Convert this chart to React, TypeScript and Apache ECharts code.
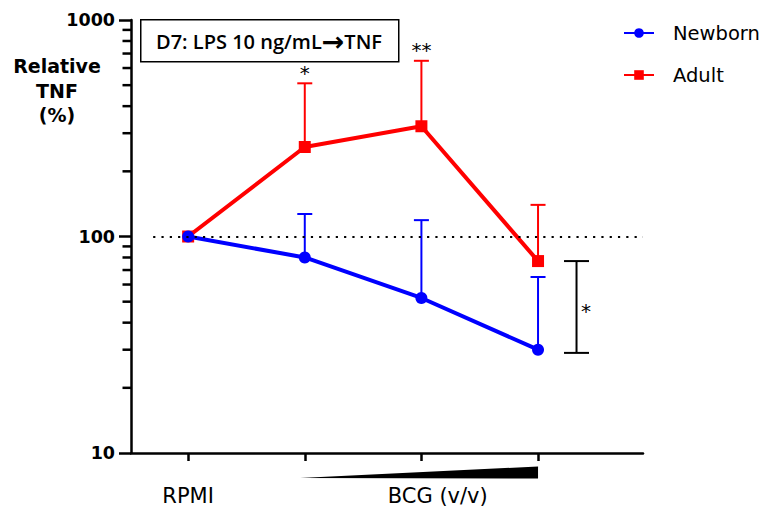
import React, { useEffect, useRef } from "react";
import * as echarts from "echarts";

// ---- data ----
const categoryPositions = [1, 2, 3, 4];
const axisLabelPositions = [1, 3.14];
const axisLabelTexts = ["RPMI", "BCG (v/v)"];
const newbornMean = [100, 80, 52, 30];
const newbornUpper: (number | null)[] = [null, 127, 119, 65];
const adultMean = [100, 259, 323, 77];
const adultUpper: (number | null)[] = [null, 510, 648, 140];
const significance = ["", "*", "**", ""];
const minorTickValues = [20, 30, 40, 50, 60, 70, 80, 90, 200, 300, 400, 500, 600, 700, 800, 900];
const bracketX = 4.33;
const bracketRange = [29, 77];
const bracketLabel = "*";
const wedgeRange = [1.96, 4];
const referenceLevel = 100;
const yRange = [10, 1000];

const FONT = "DejaVu Sans";
const BLUE = "#0000ff";
const RED = "#ff0000";

export default function App() {
  const ref = useRef<HTMLDivElement>(null);
  useEffect(() => {
    if (!ref.current) return;
    const chart = echarts.init(ref.current, null, { renderer: "svg" });
    const xMin = 0.51;
    const errData = (mean: number[], upper: (number | null)[]) =>
      categoryPositions
        .map((x, i) => [x, mean[i], upper[i]])
        .filter((d) => d[2] != null);
    const errSeries = (name: string, mean: number[], upper: (number | null)[], color: string) => ({
      type: "custom",
      name: name + "-err",
      data: errData(mean, upper),
      encode: { x: 0, y: 2 },
      z: 1,
      silent: true,
      renderItem: (params: any, api: any) => {
        const x = api.value(0), m = api.value(1), u = api.value(2);
        const p0 = api.coord([x, m]);
        const p1 = api.coord([x, u]);
        return {
          type: "group",
          children: [
            { type: "line", shape: { x1: p0[0], y1: p0[1], x2: p1[0], y2: p1[1] }, style: { stroke: color, lineWidth: 2 } },
            { type: "line", shape: { x1: p1[0] - 7.5, y1: p1[1], x2: p1[0] + 7.5, y2: p1[1] }, style: { stroke: color, lineWidth: 2 } },
          ],
        };
      },
    });

    const option: any = {
      animation: false,
      grid: { left: 131, right: 120, top: 20, bottom: 52 },
      legend: {
        data: ["Newborn", "Adult"],
        orient: "vertical",
        left: 618,
        top: 18,
        itemWidth: 30,
        itemHeight: 12,
        itemGap: 22,
        textStyle: { fontFamily: FONT, fontSize: 19.5, color: "#000", lineHeight: 20, padding: [0, 0, 0, 14] },
      },
      xAxis: {
        type: "value",
        min: xMin,
        max: 4.9,
        splitLine: { show: false },
        axisLine: { lineStyle: { color: "#000", width: 2.5 } },
        axisTick: { show: true, length: 8, lineStyle: { color: "#000", width: 2.5 }, customValues: categoryPositions },
        axisLabel: {
          customValues: axisLabelPositions,
          formatter: (v: number) => {
            const i = axisLabelPositions.findIndex((p) => Math.abs(p - v) < 1e-6);
            return i >= 0 ? axisLabelTexts[i] : "";
          },
          margin: 32,
          fontFamily: FONT,
          fontSize: 21,
          color: "#000",
        },
      },
      yAxis: {
        type: "log",
        logBase: 10,
        min: yRange[0],
        max: yRange[1],
        splitLine: { show: false },
        axisLine: { show: true, lineStyle: { color: "#000", width: 2.5 } },
        axisTick: { show: true, length: 12, lineStyle: { color: "#000", width: 2.5 } },
        axisLabel: {
          margin: 16,
          fontFamily: FONT,
          fontSize: 17.5,
          fontWeight: "bold",
          color: "#000",
          formatter: (v: number) => String(Math.round(v)),
        },
      },
      graphic: [
        {
          type: "rect",
          left: 140,
          top: 19,
          shape: { width: 258, height: 42 },
          style: { fill: "#fff", stroke: "#000", lineWidth: 1.5 },
          z: 10,
        },
        {
          type: "text",
          x: 269,
          y: 41,
          style: {
            text: "{t|D7: LPS 10 ng/mL}{a|\u2192}{t|TNF}",
            rich: {
              t: { fontFamily: "Open Sans", fontWeight: 600, fontSize: 20, fill: "#000" },
              a: { fontFamily: "DejaVu Sans", fontWeight: "bold", fontSize: 27, fill: "#000" },
            },
            fill: "#000",
            align: "center",
            verticalAlign: "middle",
          },
          z: 11,
        },
        {
          type: "text",
          x: 57,
          y: 54,
          style: {
            text: "Relative\nTNF\n(%)",
            fontFamily: FONT,
            fontWeight: "bold",
            fontSize: 19,
            lineHeight: 24.5,
            fill: "#000",
            align: "center",
            verticalAlign: "top",
          },
        },
      ],
      series: [
        // dose wedge + minor ticks of the log axis
        {
          type: "custom",
          name: "decor",
          data: [[wedgeRange[0], yRange[0]]],
          encode: { x: 0, y: 1 },
          silent: true,
          z: 6,
          renderItem: (params: any, api: any) => {
            const a = api.coord([wedgeRange[0], yRange[0]]);
            const b = api.coord([wedgeRange[1], yRange[0]]);
            const top = api.coord([wedgeRange[1], yRange[1]]);
            const unit = (b[0] - a[0]) / (wedgeRange[1] - wedgeRange[0]);
            const axisX = a[0] - (wedgeRange[0] - xMin) * unit;
            const decades = Math.log10(yRange[1] / yRange[0]);
            const ticks = minorTickValues.map((v) => {
              const y = a[1] + (Math.log10(v / yRange[0]) / decades) * (top[1] - a[1]);
              return {
                type: "polygon",
                shape: {
                  points: [
                    [axisX - 8.5, y - 1.25],
                    [axisX, y - 1.25],
                    [axisX, y + 1.25],
                    [axisX - 8.5, y + 1.25],
                  ],
                },
                style: { fill: "#000" },
              };
            });
            return {
              type: "group",
              children: [
                {
                  type: "polygon",
                  shape: { points: [[a[0], a[1] + 25], [b[0], b[1] + 13.5], [b[0], b[1] + 25.5]] },
                  style: { fill: "#000" },
                },
                ...ticks,
              ],
            };
          },
        },
        errSeries("Adult", adultMean, adultUpper, RED),
        errSeries("Newborn", newbornMean, newbornUpper, BLUE),
        {
          type: "line",
          name: "Adult",
          data: categoryPositions.map((x, i) => [x, adultMean[i]]),
          symbol: "rect",
          symbolSize: 12,
          color: RED,
          lineStyle: { width: 4, color: RED },
          itemStyle: { color: RED },
          z: 3,
          markLine: {
            silent: true,
            symbol: "none",
            label: { show: false },
            lineStyle: { type: [2.2, 6.1], width: 2, color: "#000" },
            data: [[{ coord: [0.7, referenceLevel] }, { coord: [4.9, referenceLevel] }]],
          },
        },
        {
          type: "line",
          name: "Newborn",
          data: categoryPositions.map((x, i) => [x, newbornMean[i]]),
          symbol: "circle",
          symbolSize: 12,
          color: BLUE,
          lineStyle: { width: 4, color: BLUE },
          itemStyle: { color: BLUE },
          z: 4,
        },
        // significance stars above adult error bars
        {
          type: "custom",
          name: "stars",
          data: errData(adultMean, adultUpper),
          encode: { x: 0, y: 2 },
          silent: true,
          z: 5,
          renderItem: (params: any, api: any) => {
            const x = api.value(0), u = api.value(2);
            const p = api.coord([x, u]);
            const idx = categoryPositions.indexOf(x);
            return {
              type: "text",
              style: {
                text: significance[idx] || "",
                x: p[0],
                y: p[1] - 10.5,
                align: "center",
                verticalAlign: "middle",
                fontFamily: FONT,
                fontSize: 20,
                fill: "#000",
              },
            };
          },
        },
        // bracket between groups at highest dose
        {
          type: "custom",
          name: "bracket",
          data: [[bracketX, bracketRange[0], bracketRange[1]]],
          encode: { x: 0, y: 2 },
          silent: true,
          renderItem: (params: any, api: any) => {
            const lo = api.coord([api.value(0), api.value(1)]);
            const hi = api.coord([api.value(0), api.value(2)]);
            const mid = api.coord([api.value(0), Math.sqrt(api.value(1) * api.value(2))]);
            const st = { stroke: "#000", lineWidth: 2 };
            return {
              type: "group",
              children: [
                { type: "line", shape: { x1: lo[0], y1: lo[1], x2: hi[0], y2: hi[1] }, style: st },
                { type: "line", shape: { x1: lo[0] - 12.5, y1: lo[1], x2: lo[0] + 12.5, y2: lo[1] }, style: st },
                { type: "line", shape: { x1: hi[0] - 12.5, y1: hi[1], x2: hi[0] + 12.5, y2: hi[1] }, style: st },
                {
                  type: "text",
                  style: {
                    text: bracketLabel,
                    x: mid[0] + 9.5,
                    y: mid[1] + 4,
                    align: "center",
                    verticalAlign: "middle",
                    fontFamily: FONT,
                    fontSize: 20,
                    fill: "#000",
                  },
                },
              ],
            };
          },
        },
      ],
    };
    chart.setOption(option);
    return () => chart.dispose();
  }, []);
  return (
    <div
      ref={ref}
      style={{ position: "fixed", left: 0, top: 0, width: 763, height: 506, background: "#fff" }}
    />
  );
}
